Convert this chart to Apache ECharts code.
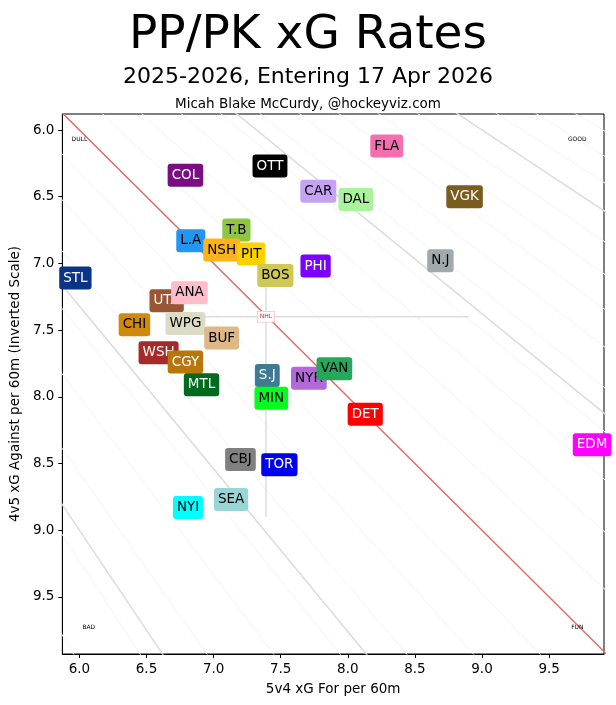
<!DOCTYPE html>
<html>
<head>
<meta charset="utf-8">
<script src="https://cdn.jsdelivr.net/npm/echarts@6/dist/echarts.min.js"></script>
<style>
  html, body { margin: 0; padding: 0; background: #fff; }
  #chart { width: 616px; height: 705px; }
</style>
</head>
<body>
<div id="chart"></div>
<script>
// team data: abbreviation, 5v4 xGF/60, 4v5 xGA/60
const teams = ['FLA', 'OTT', 'COL', 'CAR', 'DAL', 'VGK', 'N.J', 'STL', 'T.B', 'L.A', 'NSH', 'PIT', 'PHI', 'BOS',
  'UTA', 'ANA', 'CHI', 'WPG', 'BUF', 'WSH', 'CGY', 'MTL', 'S.J', 'NYR', 'VAN', 'MIN', 'DET', 'EDM',
  'CBJ', 'TOR', 'SEA', 'NYI'];
const xgFor = [8.29, 7.42, 6.79, 7.78, 8.06, 8.87, 8.69, 5.97, 7.17, 6.83, 7.06, 7.28, 7.76, 7.46,
  6.65, 6.82, 6.41, 6.79, 7.06, 6.59, 6.79, 6.91, 7.40, 7.71, 7.90, 7.43, 8.13, 9.82,
  7.20, 7.49, 7.13, 6.81];
const xgAgainst = [6.12, 6.27, 6.34, 6.46, 6.52, 6.50, 6.98, 7.11, 6.75, 6.83, 6.90, 6.93, 7.02, 7.09,
  7.28, 7.22, 7.46, 7.45, 7.56, 7.67, 7.74, 7.91, 7.84, 7.86, 7.79, 8.01, 8.13, 8.36,
  8.47, 8.51, 8.77, 8.83];
const boxColors = ['#f46eb0', '#000000', '#7b0d82', '#c4a3f4', '#aaf39d', '#7a5c1e', '#a2a9ad', '#0a3487', '#8ec63f', '#2196f3', '#ffb31a', '#fcd100', '#7b00ff', '#cfc857',
  '#9a5535', '#ffbccb', '#cf8a0a', '#dcdcc6', '#deb887', '#a52a2a', '#b8760b', '#016a1e', '#3e7a91', '#b469da', '#24a85a', '#00ff1d', '#ff0000', '#ff00ff',
  '#808080', '#0000f0', '#99d5d5', '#00ffff'];
const whiteText = ['OTT', 'COL', 'VGK', 'STL', 'PHI', 'UTA', 'WSH', 'CGY', 'MTL', 'S.J', 'DET', 'EDM', 'TOR'];

const leagueAvg = [7.39, 7.40];
const avgHLine = [6.93, 8.90];
const avgVLine = [7.05, 8.90];
const ratioLines = [1.5, 1.22, 1 / 1.22, 1 / 1.5];
const corners = [['DULL', 6.0, 6.07], ['GOOD', 9.71, 6.07], ['BAD', 6.07, 9.73], ['FUN', 9.71, 9.73]];
const ticks = [6.0, 6.5, 7.0, 7.5, 8.0, 8.5, 9.0, 9.5];

const xMin = 5.873, xMax = 9.909, yMin = 5.88, yMax = 9.928;

const myChart = echarts.init(document.getElementById('chart'));

const series = [];
// faint background hatching
for (let k = 0.55; k < 1.9; k += 0.05) {
  series.push({
    type: 'line', silent: true, symbol: 'none', z: 1,
    data: [[4, 4 / k], [12, 12 / k]],
    lineStyle: { color: '#f4f4f4', width: 1 }
  });
}
ratioLines.forEach(k => {
  series.push({
    type: 'line', silent: true, symbol: 'none', z: 2,
    data: [[4, 4 / k], [12, 12 / k]],
    lineStyle: { color: '#dcdcdc', width: 1.5 }
  });
});
series.push({
  type: 'line', silent: true, symbol: 'none', z: 3,
  data: [[4, 4], [12, 12]],
  lineStyle: { color: '#e06c66', width: 1.5 }
});
series.push({
  type: 'line', symbol: 'none', z: 3,
  data: [[avgHLine[0], leagueAvg[1]], [avgHLine[1], leagueAvg[1]]],
  lineStyle: { color: '#dddddd', width: 1.5 }
});
series.push({
  type: 'line', symbol: 'none', z: 3,
  data: [[leagueAvg[0], avgVLine[0]], [leagueAvg[0], avgVLine[1]]],
  lineStyle: { color: '#dddddd', width: 1.5 }
});
series.push({
  type: 'scatter', symbolSize: 0, z: 4, itemStyle: { opacity: 1 },
  data: [leagueAvg],
  label: {
    show: true, position: 'inside', formatter: 'NHL', color: '#e02020', fontSize: 6,
    fontFamily: 'DejaVu Sans', backgroundColor: '#fff', borderColor: '#f5c0c0',
    borderWidth: 0.8, padding: [2, 2]
  }
});
series.push({
  type: 'scatter', symbolSize: 0, z: 4, itemStyle: { opacity: 1 },
  data: corners.map(c => ({ value: [c[1], c[2]], name: c[0] })),
  label: {
    show: true, position: 'inside', formatter: p => p.name, color: '#000',
    fontSize: 6, fontFamily: 'DejaVu Sans'
  }
});
series.push({
  type: 'scatter', symbolSize: 0, z: 5, itemStyle: { opacity: 1 },
  data: teams.map((t, i) => ({
    value: [xgFor[i], xgAgainst[i]], name: t,
    label: {
      backgroundColor: boxColors[i],
      color: whiteText.includes(t) ? '#fff' : '#000'
    }
  })),
  label: {
    show: true, position: 'inside', formatter: p => p.name,
    fontSize: 13.5, fontFamily: 'DejaVu Sans', padding: [5, 4, 4, 4], borderRadius: 3
  }
});

const axisCommon = {
  type: 'value',
  splitLine: { show: false },
  axisLine: { show: true, onZero: false, lineStyle: { color: '#000' } },
  axisTick: { show: true, customValues: ticks, length: 4, lineStyle: { color: '#000' } },
  axisLabel: {
    customValues: ticks, color: '#000', fontSize: 13.5, fontFamily: 'DejaVu Sans',
    formatter: v => v.toFixed(1)
  },
  nameLocation: 'middle',
  nameTextStyle: { color: '#000', fontSize: 13.5, fontFamily: 'DejaVu Sans' }
};

myChart.setOption({
  animation: false,
  backgroundColor: '#fff',
  title: [
    { text: 'PP/PK xG Rates', left: 'center', top: 7, textStyle: { fontSize: 47, fontWeight: 'normal', color: '#000', fontFamily: 'DejaVu Sans' } },
    { text: '2025-2026, Entering 17 Apr 2026', left: 'center', top: 61, textStyle: { fontSize: 22, fontWeight: 'normal', color: '#000', fontFamily: 'DejaVu Sans' } },
    { text: 'Micah Blake McCurdy, @hockeyviz.com', left: 'center', top: 92, textStyle: { fontSize: 13.5, fontWeight: 'normal', color: '#000', fontFamily: 'DejaVu Sans' } }
  ],
  grid: { left: 62, right: 12, top: 114, bottom: 51, show: true, borderColor: '#000', borderWidth: 1 },
  xAxis: Object.assign({}, axisCommon, { min: xMin, max: xMax, name: '5v4 xG For per 60m', nameGap: 28 }),
  yAxis: Object.assign({}, axisCommon, { min: yMin, max: yMax, inverse: true, name: '4v5 xG Against per 60m (Inverted Scale)', nameGap: 40 }),
  series: series
});
</script>
</body>
</html>
